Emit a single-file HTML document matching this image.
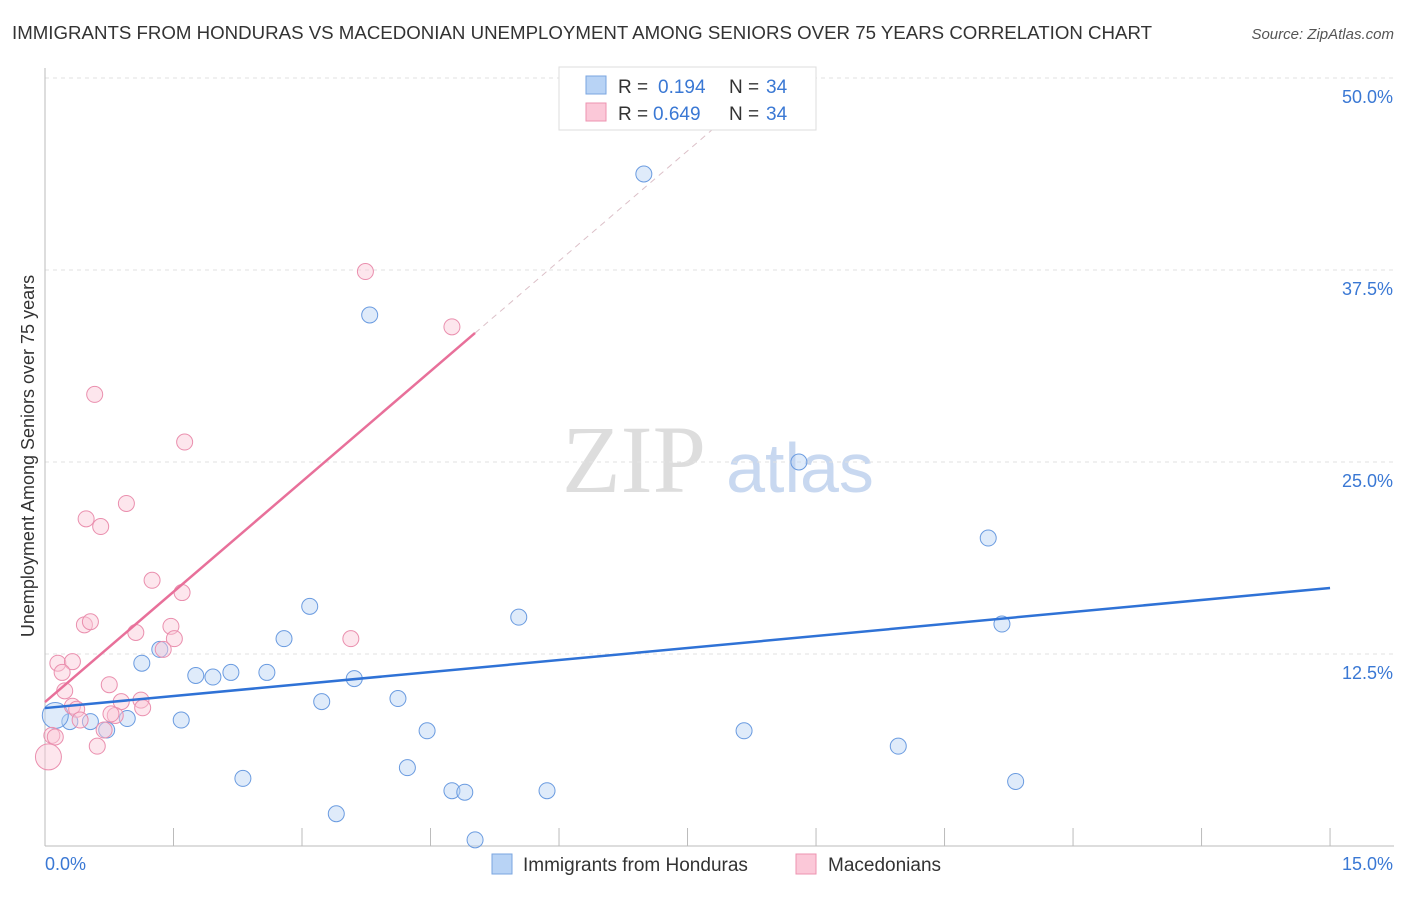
<!DOCTYPE html>
<html><head><meta charset="utf-8"><style>
body{margin:0;background:#fff;font-family:"Liberation Sans",sans-serif}
</style></head><body>
<svg id="c" width="1406" height="892" font-family="Liberation Sans, sans-serif">
<text x="12" y="39" font-size="18" fill="#333" textLength="1140" lengthAdjust="spacingAndGlyphs">IMMIGRANTS FROM HONDURAS VS MACEDONIAN UNEMPLOYMENT AMONG SENIORS OVER 75 YEARS CORRELATION CHART</text>
<text x="1394" y="39" font-size="15" fill="#555" font-style="italic" text-anchor="end">Source: ZipAtlas.com</text>
<text x="634" y="492" font-size="96" fill="#ddd" style="font-family:'Liberation Serif',serif" text-anchor="middle">ZIP</text>
<text x="800" y="492" font-size="70" fill="#c8d8f0" text-anchor="middle">atlas</text>
<text transform="translate(34,456) rotate(-90)" font-size="18" fill="#333" text-anchor="middle">Unemployment Among Seniors over 75 years</text>
<g id="grid"></g><g id="marks"></g>
<g>
<rect x="559" y="67" width="257" height="63" fill="#fff" stroke="#ddd"/>
<rect x="586" y="76" width="20" height="18" fill="#b8d3f5" stroke="#7aa6e0"/>
<rect x="586" y="103" width="20" height="18" fill="#fbc8d8" stroke="#ee93b0"/>
<text x="618" y="93" font-size="19" fill="#333">R =</text><text x="658" y="93" font-size="19" fill="#3a78d4">0.194</text>
<text x="729" y="93" font-size="19" fill="#333">N =</text><text x="766" y="93" font-size="19" fill="#3a78d4">34</text>
<text x="618" y="120" font-size="19" fill="#333">R =</text><text x="653" y="120" font-size="19" fill="#3a78d4">0.649</text>
<text x="729" y="120" font-size="19" fill="#333">N =</text><text x="766" y="120" font-size="19" fill="#3a78d4">34</text>
</g>
<g>
<rect x="492" y="854" width="20" height="20" fill="#b8d3f5" stroke="#7aa6e0"/>
<text x="523" y="871" font-size="19" fill="#333">Immigrants from Honduras</text>
<rect x="796" y="854" width="20" height="20" fill="#fbc8d8" stroke="#ee93b0"/>
<text x="828" y="871" font-size="19" fill="#333">Macedonians</text>
</g>
<text x="45" y="870" font-size="18" fill="#3a78d4">0.0%</text>
<text x="1393" y="870" font-size="18" fill="#3a78d4" text-anchor="end">15.0%</text>
</svg>
<script>
const blueX=[6.99,3.79,8.80,11.01,11.17,5.53,3.09,2.79,1.13,1.34,1.76,1.96,2.17,2.59,3.61,3.23,4.12,1.59,0.96,0.72,0.53,0.29,0.12,4.46,8.16,9.96,2.31,4.23,4.75,4.90,5.86,11.33,3.40,5.02];
const blueY=[43.75,34.57,25.0,20.05,14.45,14.9,15.6,13.5,11.9,12.8,11.1,11.0,11.3,11.3,10.9,9.4,9.6,8.2,8.3,7.55,8.1,8.1,8.5,7.5,7.5,6.5,4.4,5.1,3.6,3.5,3.6,4.2,2.1,0.4];
const pinkX=[3.74,4.75,0.58,1.63,0.95,0.48,0.65,1.25,1.60,0.46,0.53,1.06,1.47,1.51,1.38,3.57,0.15,0.32,0.20,0.23,0.75,0.89,1.12,1.14,0.32,0.37,0.82,0.77,0.69,0.08,0.12,0.61,0.04,0.41];
const pinkY=[37.4,33.8,29.4,26.3,22.3,21.3,20.8,17.3,16.5,14.4,14.6,13.9,14.3,13.5,12.8,13.5,11.9,12.0,11.3,10.1,10.5,9.4,9.5,9.0,9.1,8.9,8.5,8.6,7.55,7.2,7.1,6.5,5.8,8.2];
const yTicks=[12.5,25,37.5,50];
const yTickLabels=["12.5%","25.0%","37.5%","50.0%"];
const xTicks=[0,1.5,3,4.5,6,7.5,9,10.5,12,13.5,15];
const blueTrend=[[0,8.98],[15,16.8]];
const pinkTrend=[[0,9.37],[5.02,33.4]];
const pinkDash=[[5.02,33.4],[8.2,48.6]];
const X=v=>45+v*85.67, Y=v=>846-v*15.36;
const NS="http://www.w3.org/2000/svg";
function mk(t,a,p){const e=document.createElementNS(NS,t);for(const k in a)e.setAttribute(k,a[k]);p.appendChild(e);return e;}
const g=document.getElementById('grid'), m=document.getElementById('marks');
yTicks.forEach((t,i)=>{
 const l=mk('line',{x1:45,x2:1394,y1:Y(t),y2:Y(t),stroke:'#e2e2e2','stroke-dasharray':'4,4'},g);
 
 
 const tx=mk('text',{x:1393,y:Y(t)+25,'font-size':18,fill:'#3a78d4','text-anchor':'end'},g);
 tx.textContent=yTickLabels[i];
 
 
});
const ax=mk('line',{x1:45,x2:1394,y1:846,y2:846,stroke:'#bbb'},g);


const ay=mk('line',{x1:45,x2:45,y1:68,y2:846,stroke:'#bbb'},g);


xTicks.forEach(t=>{
 const l=mk('line',{x1:X(t),x2:X(t),y1:828,y2:846,stroke:'#bbb'},g);
 
 
});
function pts(xs,ys,fill,stroke,name,bigIdx){
 xs.forEach((x,i)=>{
  const c=mk('circle',{cx:X(x),cy:Y(ys[i]),r:i===bigIdx?13:8,fill:fill,stroke:stroke,'stroke-width':1,'fill-opacity':0.45},m);
  
  
 });
}
pts(blueX,blueY,'#b8d3f5','#6a9be0','honduras-point',22);
pts(pinkX,pinkY,'#fbc8d8','#ea8fae','macedonian-point',32);
const bl=mk('line',{x1:X(blueTrend[0][0]),y1:Y(blueTrend[0][1]),x2:X(blueTrend[1][0]),y2:Y(blueTrend[1][1]),stroke:'#2f72d6','stroke-width':2.5},m);


const pl=mk('line',{x1:X(pinkTrend[0][0]),y1:Y(pinkTrend[0][1]),x2:X(pinkTrend[1][0]),y2:Y(pinkTrend[1][1]),stroke:'#e8709a','stroke-width':2.5},m);


const pd=mk('line',{x1:X(pinkDash[0][0]),y1:Y(pinkDash[0][1]),x2:X(pinkDash[1][0]),y2:Y(pinkDash[1][1]),stroke:'#dcc0c8','stroke-width':1,'stroke-dasharray':'6,5'},m);


</script>
</body></html>
